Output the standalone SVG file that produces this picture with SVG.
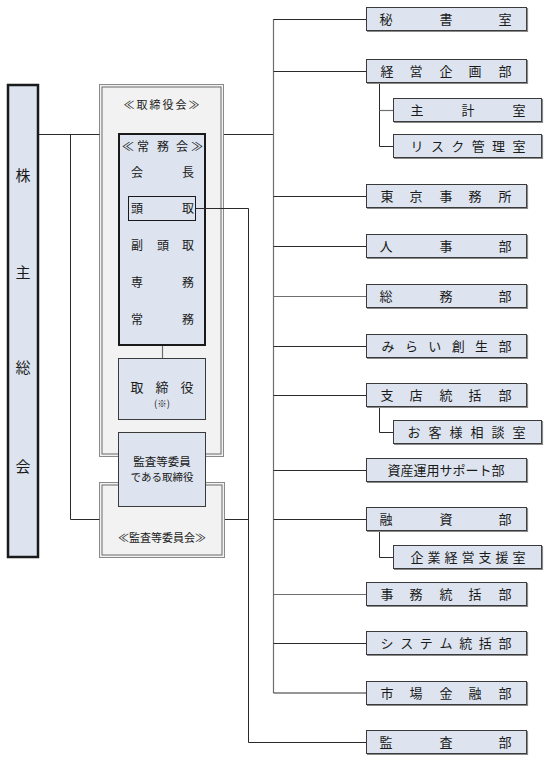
<svg xmlns="http://www.w3.org/2000/svg" width="550" height="763" viewBox="0 0 550 763">
<style>
text{font-family:"Noto Sans CJK JP","Noto Sans CJK SC",sans-serif;fill:#1a1a1a;}
.t{font-size:13px;text-anchor:middle;}
.s{font-size:11px;text-anchor:middle;}
.box{fill:#dde4ef;stroke:#3a3a3a;stroke-width:1;}
.sh{fill:none;stroke:#8a8a8a;stroke-width:1.2;}
.frame{fill:#f2f2f2;stroke:#8a8a8a;stroke-width:1;}
.frame2{fill:none;stroke:#6a6a6a;stroke-width:1;}
.ln{fill:none;stroke:#2a2a2a;stroke-width:1;}
.lg{fill:none;stroke:#6e6e6e;stroke-width:1.2;}
</style>
<rect width="550" height="763" fill="#ffffff"/>

<g id="kabunushi">
<rect x="8" y="85" width="30" height="472" fill="#dde4ef" stroke="#1a1a1a" stroke-width="2.5"/>
<text style="font-size:15px;text-anchor:middle" x="23" y="181">株</text>
<text style="font-size:15px;text-anchor:middle" x="23" y="278">主</text>
<text style="font-size:15px;text-anchor:middle" x="23" y="373">総</text>
<text style="font-size:15px;text-anchor:middle" x="23" y="472">会</text>
</g>

<g id="torishimariyakukai">
<rect class="frame" x="99.5" y="84.5" width="124" height="372"/>
<rect class="frame2" x="102" y="87" width="119" height="367"/>
<text class="s" x="129 142 155 168 181 194" y="109">≪取締役会≫</text>
</g>

<g id="kansa-iinkai">
<rect class="frame" x="99.5" y="482.5" width="125" height="75"/>
<rect class="frame2" x="102" y="485" width="120" height="70"/>
<text class="s" x="162" y="542">≪監査等委員会≫</text>
</g>

<g id="jomukai">
<rect x="119" y="134" width="86" height="211" fill="#dde4ef" stroke="#1a1a1a" stroke-width="2"/>
<text style="font-size:12px;text-anchor:middle" x="128 143 163 182 197" y="151">≪常務会≫</text>
<text style="font-size:12px;text-anchor:middle" x="137 188" y="177">会長</text>
<text style="font-size:12px;text-anchor:middle" x="137 163 188" y="250">副頭取</text>
<text style="font-size:12px;text-anchor:middle" x="137 188" y="287">専務</text>
<text style="font-size:12px;text-anchor:middle" x="137 188" y="324">常務</text>
</g>

<g id="todori">
<rect x="128.5" y="196.5" width="67" height="24" fill="#dde4ef" stroke="#1a1a1a" stroke-width="1"/>
<text style="font-size:12px;text-anchor:middle" x="137 188" y="213">頭取</text>
</g>

<g id="torishimariyaku">
<rect class="box" x="118.5" y="358.5" width="87" height="61"/>
<text style="font-size:13px;text-anchor:middle" x="137 162 187" y="392">取締役</text>
<text style="font-size:9.5px;text-anchor:middle" x="162" y="407">(※)</text>
</g>

<g id="kansatou-torishimariyaku">
<rect class="box" x="118.5" y="432.5" width="87" height="74"/>
<text style="font-size:11.5px;text-anchor:middle" x="162" y="466">監査等委員</text>
<text style="font-size:10.5px;text-anchor:middle" x="162" y="481">である取締役</text>
</g>

<g id="connectors">
<path class="ln" d="M39 134.5H99.5"/>
<path class="ln" d="M70.5 134.5V519.5H99.5"/>
<path class="ln" d="M224 134.5H273.5"/>
<path class="lg" d="M162.5 346V358"/>
<path class="ln" d="M196 208.5H248.5V742.5H366"/>
<path class="ln" d="M225 519.5H248.5"/>
<path class="lg" d="M273.5 19V693"/>
<path class="ln" d="M273.5 19.5H366"/>
<path class="ln" d="M273.5 71.5H366"/>
<path class="ln" d="M273.5 196.5H366"/>
<path class="ln" d="M273.5 246.5H366"/>
<path class="lg" d="M273.5 296.5H366"/>
<path class="ln" d="M273.5 346.5H366"/>
<path class="ln" d="M273.5 395.5H366"/>
<path class="ln" d="M273.5 470.5H366"/>
<path class="ln" d="M273.5 519.5H366"/>
<path class="lg" d="M273.5 594.5H366"/>
<path class="ln" d="M273.5 643.5H366"/>
<path class="ln" d="M273.5 693H366"/>
<path class="ln" d="M379.5 83V146.5H393"/>
<path class="lg" d="M379.5 110.5H393"/>
<path class="ln" d="M379.5 407V432.5H393"/>
<path class="ln" d="M379.5 531V557.5H393"/>
</g>

<g id="hishoshitsu">
<rect class="box" x="366.5" y="7.5" width="160" height="23"/><path class="sh" d="M367 31.5H527.5V8"/>
<text class="t" x="386 446 505" y="24">秘書室</text>
</g>
<g id="keiei-kikakubu">
<rect class="box" x="366.5" y="59.5" width="160" height="23"/><path class="sh" d="M367 83.5H527.5V60"/>
<text class="t" x="387 416 446 475 505" y="76">経営企画部</text>
</g>
<g id="shukeishitsu">
<rect class="box" x="393.5" y="98.5" width="148" height="23"/><path class="sh" d="M394 122.5H542.5V99"/>
<text class="t" x="417 468 519" y="115">主計室</text>
</g>
<g id="risk-kanrishitsu">
<rect class="box" x="393.5" y="134.5" width="148" height="23"/><path class="sh" d="M394 158.5H542.5V135"/>
<text class="t" x="417 437.4 457.8 478.2 498.6 519" y="151">リスク管理室</text>
</g>
<g id="tokyo-jimusho">
<rect class="box" x="366.5" y="184.5" width="160" height="23"/><path class="sh" d="M367 208.5H527.5V185"/>
<text class="t" x="387 416 446 475 505" y="201">東京事務所</text>
</g>
<g id="jinjibu">
<rect class="box" x="366.5" y="234.5" width="160" height="23"/><path class="sh" d="M367 258.5H527.5V235"/>
<text class="t" x="386 446 505" y="251">人事部</text>
</g>
<g id="somubu">
<rect class="box" x="366.5" y="284.5" width="160" height="23"/><path class="sh" d="M367 308.5H527.5V285"/>
<text class="t" x="386 446 505" y="301">総務部</text>
</g>
<g id="mirai-soseibu">
<rect class="box" x="366.5" y="334.5" width="160" height="23"/><path class="sh" d="M367 358.5H527.5V335"/>
<text class="t" x="388 411.4 434.8 458.2 481.6 505" y="351">みらい創生部</text>
</g>
<g id="shiten-tokatsubu">
<rect class="box" x="366.5" y="383.5" width="160" height="23"/><path class="sh" d="M367 407.5H527.5V384"/>
<text class="t" x="387 416 446 475 505" y="400">支店統括部</text>
</g>
<g id="okyakusama-sodanshitsu">
<rect class="box" x="393.5" y="420.5" width="148" height="23"/><path class="sh" d="M394 444.5H542.5V421"/>
<text class="t" x="414 435 456 477 498 519" y="437">お客様相談室</text>
</g>
<g id="shisan-unyo">
<rect class="box" x="366.5" y="458.5" width="160" height="23"/><path class="sh" d="M367 482.5H527.5V459"/>
<text class="t" x="446" y="475">資産運用サポート部</text>
</g>
<g id="yushibu">
<rect class="box" x="366.5" y="507.5" width="160" height="23"/><path class="sh" d="M367 531.5H527.5V508"/>
<text class="t" x="386 446 505" y="524">融資部</text>
</g>
<g id="kigyo-keiei-shienshitsu">
<rect class="box" x="393.5" y="545.5" width="148" height="23"/><path class="sh" d="M394 569.5H542.5V546"/>
<text class="t" x="417 434 451 468 485 502 519" y="562">企業経営支援室</text>
</g>
<g id="jimu-tokatsubu">
<rect class="box" x="366.5" y="582.5" width="160" height="23"/><path class="sh" d="M367 606.5H527.5V583"/>
<text class="t" x="387 416 446 475 505" y="599">事務統括部</text>
</g>
<g id="system-tokatsubu">
<rect class="box" x="366.5" y="631.5" width="160" height="23"/><path class="sh" d="M367 655.5H527.5V632"/>
<text class="t" x="387 406.7 426.3 446 465.7 485.3 505" y="648">システム統括部</text>
</g>
<g id="shijo-kinyubu">
<rect class="box" x="366.5" y="681.5" width="160" height="23"/><path class="sh" d="M367 705.5H527.5V682"/>
<text class="t" x="387 416 446 475 505" y="698">市場金融部</text>
</g>
<g id="kansabu">
<rect class="box" x="366.5" y="730.5" width="160" height="23"/><path class="sh" d="M367 754.5H527.5V731"/>
<text class="t" x="386 446 505" y="747">監査部</text>
</g>
</svg>
